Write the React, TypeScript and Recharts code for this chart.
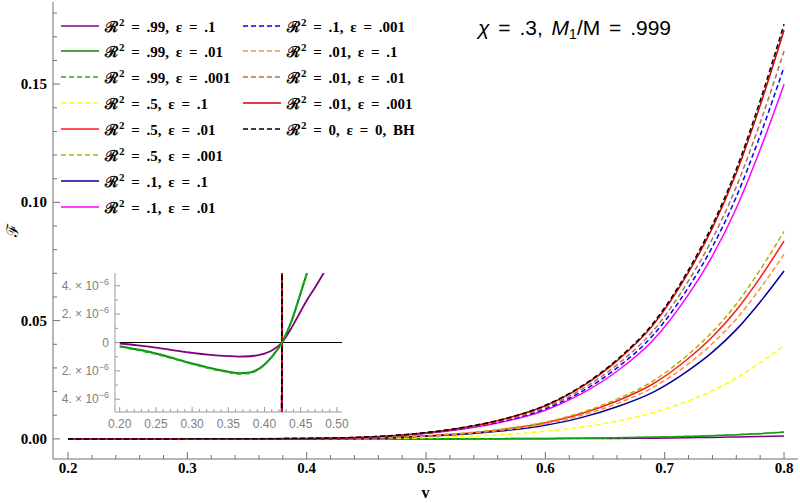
import React from "react";
import { LineChart, Line, XAxis, YAxis, Legend, ReferenceLine, Label } from "recharts";

// ---------------- main chart data ----------------
const vGrid = [0.2, 0.25, 0.3, 0.35, 0.4, 0.44, 0.48, 0.52, 0.56, 0.6, 0.63, 0.66, 0.69, 0.72, 0.74, 0.76, 0.78, 0.8];
const fR99e1 = [0, 0, 0, 0, 0, 0, 0, 0, 0.0001, 0.0001, 0.0002, 0.0002, 0.0003, 0.0005, 0.0006, 0.0008, 0.001, 0.0012];
const fR99e01 = [0, 0, 0, 0, 0, 0, 0, 0.0001, 0.0001, 0.0002, 0.0003, 0.0005, 0.0007, 0.001, 0.0013, 0.0017, 0.0022, 0.0028];
const fR99e001 = [0, 0, 0, 0, 0, 0, 0, 0.0001, 0.0001, 0.0002, 0.0003, 0.0005, 0.0008, 0.0011, 0.0014, 0.0018, 0.0023, 0.0029];
const fR5e1 = [0, 0, 0, 0.00001, 0.00005, 0.0001, 0.0003, 0.0008, 0.0017, 0.0032, 0.005, 0.0075, 0.011, 0.0161, 0.0204, 0.0257, 0.0322, 0.0394];
const fR5e01 = [0, 0, 0, 0.00002, 0.0001, 0.0003, 0.0008, 0.0019, 0.0037, 0.0068, 0.0106, 0.016, 0.0232, 0.0341, 0.0432, 0.0544, 0.0682, 0.0836];
const fR5e001 = [0, 0, 0, 0.00002, 0.0001, 0.0003, 0.0009, 0.002, 0.0039, 0.0071, 0.0111, 0.0168, 0.0244, 0.0358, 0.0453, 0.057, 0.0715, 0.0877];
const fR1e1 = [0, 0, 0, 0.00002, 0.0001, 0.0002, 0.0007, 0.0016, 0.0032, 0.0058, 0.009, 0.0136, 0.0197, 0.029, 0.0367, 0.0462, 0.0579, 0.071];
const fR1e01 = [0, 0, 0.00001, 0.00004, 0.0002, 0.0005, 0.0015, 0.0034, 0.0067, 0.0121, 0.019, 0.0286, 0.0416, 0.0611, 0.0774, 0.0975, 0.1223, 0.1499];
const fR1e001 = [0, 0, 0.00001, 0.00004, 0.0002, 0.0005, 0.0015, 0.0036, 0.007, 0.0127, 0.0199, 0.03, 0.0437, 0.0641, 0.0812, 0.1023, 0.1283, 0.1572];
const fR01e1 = [0, 0, 0, 0.00002, 0.0001, 0.0003, 0.0008, 0.0018, 0.0035, 0.0063, 0.0099, 0.0149, 0.0217, 0.0318, 0.0403, 0.0507, 0.0636, 0.078];
const fR01e01 = [0, 0, 0.00001, 0.00005, 0.0002, 0.0006, 0.0016, 0.0037, 0.0073, 0.0133, 0.0208, 0.0313, 0.0455, 0.0669, 0.0846, 0.1066, 0.1337, 0.1639];
const fR01e001 = [0, 0, 0.00001, 0.00005, 0.0002, 0.0006, 0.0017, 0.0039, 0.0077, 0.014, 0.0219, 0.033, 0.048, 0.0705, 0.0892, 0.1124, 0.141, 0.1728];
const fBH = [0, 0, 0.00001, 0.00005, 0.0002, 0.0006, 0.0017, 0.004, 0.0078, 0.0142, 0.0222, 0.0335, 0.0487, 0.0715, 0.0905, 0.114, 0.143, 0.1753];

// ---------------- series meta ----------------
const seriesKeys = ["r99e1", "r99e01", "r99e001", "r5e1", "r5e01", "r5e001", "r1e1", "r1e01", "r1e001", "r01e1", "r01e01", "r01e001", "bh"];
const seriesValues = [fR99e1, fR99e01, fR99e001, fR5e1, fR5e01, fR5e001, fR1e1, fR1e01, fR1e001, fR01e1, fR01e01, fR01e001, fBH];
const rLabels = [".99", ".99", ".99", ".5", ".5", ".5", ".1", ".1", ".1", ".01", ".01", ".01", "0"];
const epsLabels = [".1", ".01", ".001", ".1", ".01", ".001", ".1", ".01", ".001", ".1", ".01", ".001", "0"];
const suffixLabels = ["", "", "", "", "", "", "", "", "", "", "", "", ", BH"];
const seriesColors = ["#800080", "#0a8a0a", "#22aa22", "#ffff00", "#ff1a1a", "#b0b000", "#00009a", "#ff00ff", "#0000ff", "#ff9030", "#a87450", "#d00000", "#000000"];
const seriesDashed = [false, false, true, true, false, true, false, false, true, true, true, false, true];

const mainData = vGrid.map((v, i) => {
  const row: Record<string, number> = { v };
  seriesKeys.forEach((k, j) => { row[k] = seriesValues[j][i]; });
  return row;
});

// ---------------- inset data ----------------
const insetV = [0.2, 0.225, 0.25, 0.275, 0.3, 0.325, 0.35, 0.365, 0.38, 0.39, 0.4, 0.41, 0.4238, 0.424, 0.4244, 0.438, 0.45, 0.4587, 0.47, 0.4816, 0.49];
const insetPurple = [-0.07e-6, -0.2e-6, -0.36e-6, -0.55e-6, -0.73e-6, -0.87e-6, -0.96e-6, -0.99e-6, -0.97e-6, -0.9e-6, -0.78e-6, -0.57e-6, null, 0, null, 1.1e-6, 2.2e-6, 3.0e-6, 3.9e-6, 4.9e-6, 5.7e-6];
const insetGreen = [-0.26e-6, -0.5e-6, -0.78e-6, -1.12e-6, -1.48e-6, -1.8e-6, -2.06e-6, -2.17e-6, -2.12e-6, -1.92e-6, -1.55e-6, -1.02e-6, null, 0, null, 1.6e-6, 3.5e-6, 4.9e-6, 6.6e-6, 8.5e-6, 10e-6];
const insetGreenDash = [-0.3e-6, -0.55e-6, -0.82e-6, -1.16e-6, -1.52e-6, -1.85e-6, -2.11e-6, -2.22e-6, -2.17e-6, -1.97e-6, -1.59e-6, -1.05e-6, null, 0, null, 1.62e-6, 3.55e-6, 4.95e-6, 6.7e-6, 8.6e-6, 10.2e-6];
const insetSteep = [null, null, null, null, null, null, null, null, null, null, null, null, -8e-6, null, 8e-6, null, null, null, null, null, null];

const insetData = insetV.map((v, i) => {
  const row: Record<string, number | null> = { v, p: insetPurple[i], g: insetGreen[i], gd: insetGreenDash[i] };
  seriesKeys.forEach((k, j) => { if (j >= 3) row[k] = insetSteep[i]; });
  return row;
});

// ---------------- ticks ----------------
const mainXTicks = [0.2, 0.22, 0.24, 0.26, 0.28, 0.3, 0.32, 0.34, 0.36, 0.38, 0.4, 0.42, 0.44, 0.46, 0.48, 0.5, 0.52, 0.54, 0.56, 0.58, 0.6, 0.62, 0.64, 0.66, 0.68, 0.7, 0.72, 0.74, 0.76, 0.78, 0.8];
const mainXMajor = [0.2, 0.3, 0.4, 0.5, 0.6, 0.7, 0.8];
const mainXLabels = ["0.2", "0.3", "0.4", "0.5", "0.6", "0.7", "0.8"];
const mainYTicks = [0, 0.01, 0.02, 0.03, 0.04, 0.05, 0.06, 0.07, 0.08, 0.09, 0.1, 0.11, 0.12, 0.13, 0.14, 0.15, 0.16, 0.17, 0.18];
const mainYMajor = [0, 0.05, 0.1, 0.15];
const mainYLabels = ["0.00", "0.05", "0.10", "0.15"];
const insetXTicks = [0.2, 0.21, 0.22, 0.23, 0.24, 0.25, 0.26, 0.27, 0.28, 0.29, 0.3, 0.31, 0.32, 0.33, 0.34, 0.35, 0.36, 0.37, 0.38, 0.39, 0.4, 0.41, 0.42, 0.43, 0.44, 0.45, 0.46, 0.47, 0.48, 0.49, 0.5];
const insetXMajor = [0.2, 0.25, 0.3, 0.35, 0.4, 0.45, 0.5];
const insetXLabels = ["0.20", "0.25", "0.30", "0.35", "0.40", "0.45", "0.50"];
const insetYTicks = [-4e-6, -3e-6, -2e-6, -1e-6, 0, 1e-6, 2e-6, 3e-6, 4e-6];
const insetYMajor = [-4e-6, -2e-6, 0, 2e-6, 4e-6];
const insetYMantissa = ["4.", "2.", "0", "2.", "4."];

const FRAME = "#6f6f6f";
const INSET_FRAME = "#9a9a9a";
const SERIF = '"Liberation Serif", "Times New Roman", serif';
const SANS = '"Liberation Sans", Arial, sans-serif';

type Side = "bottom" | "top" | "left" | "right";

function frameTick(
  side: Side,
  majors: number[],
  eps: number,
  majorLen: number,
  minorLen: number,
  stroke: string,
  renderLabel?: (x: number, y: number, idx: number) => React.ReactNode
) {
  return (p: any) => {
    const { x, y, payload } = p;
    const val = payload.value;
    const mi = majors.findIndex((m) => Math.abs(m - val) < eps);
    const len = mi >= 0 ? majorLen : minorLen;
    let l = { x1: x, y1: y, x2: x, y2: y };
    if (side === "bottom") l = { x1: x, y1: y, x2: x, y2: y - len };
    if (side === "top") l = { x1: x, y1: y, x2: x, y2: y + len };
    if (side === "left") l = { x1: x, y1: y, x2: x + len, y2: y };
    if (side === "right") l = { x1: x, y1: y, x2: x - len, y2: y };
    return (
      <g>
        <line {...l} stroke={stroke} strokeWidth={1} />
        {mi >= 0 && renderLabel ? renderLabel(x, y, mi) : null}
      </g>
    );
  };
}

const mainLabelStyle = { fontFamily: SERIF, fontWeight: 700, fontSize: 15, fill: "#000" };
const insetLabelStyle = { fontFamily: SANS, fontSize: 12, fill: "#808080" };

const mainBottomTick = frameTick("bottom", mainXMajor, 1e-6, 7, 4, FRAME, (x, y, i) => (
  <text x={x} y={y + 14} textAnchor="middle" {...mainLabelStyle}>{mainXLabels[i]}</text>
));
const mainTopTick = frameTick("top", mainXMajor, 1e-6, 7, 4, FRAME);
const mainLeftTick = frameTick("left", mainYMajor, 1e-6, 7, 4, FRAME, (x, y, i) => (
  <text x={x - 6} y={y + 5} textAnchor="end" {...mainLabelStyle}>{mainYLabels[i]}</text>
));
const mainRightTick = frameTick("right", mainYMajor, 1e-6, 7, 4, FRAME);

const insetBottomTick = frameTick("bottom", insetXMajor, 1e-6, 5, 3, INSET_FRAME, (x, y, i) => (
  <text x={x} y={y + 16} textAnchor="middle" {...insetLabelStyle}>{insetXLabels[i]}</text>
));
const insetTopTick = frameTick("top", insetXMajor, 1e-6, 5, 3, INSET_FRAME);
const insetLeftTick = frameTick("left", insetYMajor, 1e-9, 5, 3, INSET_FRAME, (x, y, i) => {
  const m = insetYMantissa[i];
  if (m === "0") {
    return <text x={x - 6} y={y + 4} textAnchor="end" {...insetLabelStyle}>0</text>;
  }
  return (
    <text x={x - 6} y={y + 4} textAnchor="end" {...insetLabelStyle}>
      {m} × 10<tspan dy={-5} fontSize={9}>−6</tspan>
    </text>
  );
});
const insetRightTick = frameTick("right", insetYMajor, 1e-9, 5, 3, INSET_FRAME);

function LegendBox() {
  return (
    <div style={{ position: "relative", width: 450, height: 225 }}>
      {seriesKeys.map((k, i) => {
        const col = i < 8 ? 0 : 1;
        const row = col ? i - 8 : i;
        const left = col ? 243 : 61;
        const cy = 25.5 + row * 25.9;
        return (
          <div key={k} style={{ position: "absolute", left, top: cy - 10, height: 20, display: "flex", alignItems: "center", whiteSpace: "nowrap" }}>
            <svg width={38} height={4} style={{ display: "block" }}>
              <line x1={0} y1={2} x2={38} y2={2} stroke={seriesColors[i]} strokeWidth={1.6} strokeDasharray={seriesDashed[i] ? "5 3" : undefined} />
            </svg>
            <span style={{ marginLeft: 6, fontFamily: SERIF, fontWeight: 700, fontSize: 15, color: "#000", wordSpacing: 3 }}>
              ℛ<sup style={{ fontSize: 11, verticalAlign: "6px", lineHeight: 0, marginLeft: 1 }}>2</sup> = {rLabels[i]}, ε = {epsLabels[i]}{suffixLabels[i]}
            </span>
          </div>
        );
      })}
    </div>
  );
}

export default function App() {
  return (
    <div style={{ position: "absolute", left: 0, top: 0, width: 800, height: 503, background: "#fff", overflow: "hidden" }}>
      <LineChart width={800} height={503} data={mainData} margin={{ top: 2, right: 2, bottom: 0, left: 0 }}>
        <XAxis xAxisId="b" dataKey="v" type="number" orientation="bottom" domain={[0.1874, 0.8117]} ticks={mainXTicks} interval={0}
          height={44} axisLine={{ stroke: FRAME }} tickLine={false} tickSize={0} tickMargin={0} tick={mainBottomTick}>
          <Label content={(p: any) => (
            <text x={p.viewBox.x + p.viewBox.width / 2} y={p.viewBox.y + 39} textAnchor="middle" fontFamily={SERIF} fontWeight={700} fontSize={16} fill="#000">v</text>
          )} />
        </XAxis>
        <XAxis xAxisId="t" dataKey="v" type="number" orientation="top" domain={[0.1874, 0.8117]} ticks={mainXTicks} interval={0}
          height={0} axisLine={{ stroke: FRAME }} tickLine={false} tickSize={0} tickMargin={0} tick={mainTopTick} />
        <YAxis yAxisId="l" type="number" orientation="left" domain={[-0.0085, 0.1847]} ticks={mainYTicks} interval={0}
          width={53} axisLine={{ stroke: FRAME }} tickLine={false} tickSize={0} tickMargin={0} tick={mainLeftTick}>
          <Label content={(p: any) => (
            <text x={12} y={p.viewBox.y + p.viewBox.height / 2} transform={`rotate(-90 12 ${p.viewBox.y + p.viewBox.height / 2})`}
              textAnchor="middle" dominantBaseline="central" fontFamily={SERIF} fontSize={16} fill="#000">ℱ</text>
          )} />
        </YAxis>
        <YAxis yAxisId="r" type="number" orientation="right" domain={[-0.0085, 0.1847]} ticks={mainYTicks} interval={0}
          width={0} axisLine={{ stroke: FRAME }} tickLine={false} tickSize={0} tickMargin={0} tick={mainRightTick} />
        <Legend layout="vertical" align="center" verticalAlign="middle" wrapperStyle={{ left: 0, top: 0, width: 450, height: 225 }} content={() => <LegendBox />} />
        {seriesKeys.map((k, i) => (
          <Line key={k} xAxisId="b" yAxisId="l" type="monotone" dataKey={k} stroke={seriesColors[i]} strokeWidth={1.5}
            strokeDasharray={seriesDashed[i] ? "5 3" : undefined} dot={false} activeDot={false} isAnimationActive={false} />
        ))}
      </LineChart>

      <div style={{ position: "absolute", left: 0, top: 0 }}>
        <LineChart width={365} height={432} data={insetData} margin={{ top: 273, right: 23, bottom: 0, left: 0 }}>
          <XAxis xAxisId="b" dataKey="v" type="number" orientation="bottom" domain={[0.1935, 0.507]} ticks={insetXTicks} interval={0}
            height={20} axisLine={{ stroke: INSET_FRAME }} tickLine={false} tickSize={0} tickMargin={0} tick={insetBottomTick} allowDataOverflow />
          <XAxis xAxisId="t" dataKey="v" type="number" orientation="top" domain={[0.1935, 0.507]} ticks={insetXTicks} interval={0}
            height={0} axisLine={{ stroke: INSET_FRAME }} tickLine={false} tickSize={0} tickMargin={0} tick={insetTopTick} allowDataOverflow />
          <YAxis yAxisId="l" type="number" orientation="left" domain={[-4.9e-6, 4.9e-6]} ticks={insetYTicks} interval={0}
            width={115} axisLine={{ stroke: INSET_FRAME }} tickLine={false} tickSize={0} tickMargin={0} tick={insetLeftTick} allowDataOverflow />
          <YAxis yAxisId="r" type="number" orientation="right" domain={[-4.9e-6, 4.9e-6]} ticks={insetYTicks} interval={0}
            width={0} axisLine={{ stroke: INSET_FRAME }} tickLine={false} tickSize={0} tickMargin={0} tick={insetRightTick} allowDataOverflow />
          <ReferenceLine xAxisId="b" yAxisId="l" y={0} stroke="#000" strokeWidth={1.2} />
          {seriesKeys.map((k, i) => (i >= 3 ? (
            <Line key={k} xAxisId="b" yAxisId="l" type="linear" dataKey={k} stroke={seriesColors[i]} strokeWidth={1.8}
              strokeDasharray={seriesDashed[i] ? "5 3" : undefined} dot={false} activeDot={false} connectNulls isAnimationActive={false} />
          ) : null))}
          <Line xAxisId="b" yAxisId="l" type="monotone" dataKey="p" stroke={seriesColors[0]} strokeWidth={1.8} dot={false} activeDot={false} connectNulls isAnimationActive={false} />
          <Line xAxisId="b" yAxisId="l" type="monotone" dataKey="g" stroke={seriesColors[1]} strokeWidth={2} dot={false} activeDot={false} connectNulls isAnimationActive={false} />
          <Line xAxisId="b" yAxisId="l" type="monotone" dataKey="gd" stroke={seriesColors[2]} strokeWidth={1.6} strokeDasharray="5 3" dot={false} activeDot={false} connectNulls isAnimationActive={false} />
        </LineChart>
      </div>

      <div style={{ position: "absolute", left: 478, top: 17, fontFamily: SANS, fontSize: 21, lineHeight: "22px", color: "#000", whiteSpace: "nowrap", wordSpacing: 3 }}>
        <i>χ</i> = .3, <i>M</i><sub style={{ fontSize: 14, verticalAlign: "-4px", lineHeight: 0 }}>1</sub>/M = .999
      </div>
    </div>
  );
}
